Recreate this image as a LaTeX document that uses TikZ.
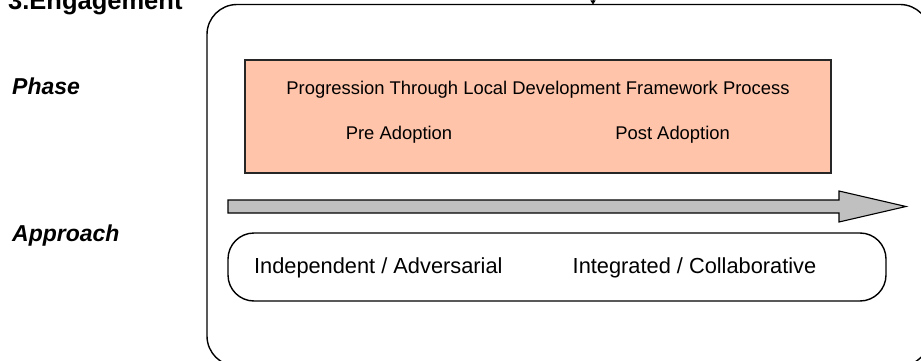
\documentclass[tikz,border=0pt]{standalone}
\usepackage{fontspec}
\setmainfont{Liberation Sans}
\usetikzlibrary{arrows.meta}
\definecolor{salmon}{RGB}{255,196,170}
\definecolor{arrowgray}{RGB}{192,192,192}
\tikzset{
  frame/.style={draw=black, line width=1.4pt, rectangle, inner sep=0pt},
  label/.style={inner sep=0pt, font=\fontsize{23}{27}\selectfont\bfseries\itshape, anchor=base west},
  phasetext/.style={inner sep=0pt, font=\fontsize{18.4}{22}\selectfont, anchor=base},
  apptext/.style={inner sep=0pt, font=\fontsize{21.8}{26}\selectfont, anchor=base},
}
\begin{document}
\begin{tikzpicture}[x=1pt,y=-1pt]
\clip (0,0) rectangle (921,361);
\fill[white] (0,0) rectangle (921,361);
% outer frame
\node[frame, rounded corners=30pt, minimum width=723pt, minimum height=361.5pt] (outer) at (568.5,185.25) {};
% title and labels
\node[inner sep=0pt, anchor=base west, font=\fontsize{25.5}{30}\selectfont\bfseries] (title) at (8,9.5) {3.Engagement};
\node[label] (phase) at (12,95) {Phase};
\node[label] (approach) at (12,241.5) {Approach};
% incoming arrow at top
\coordinate (topin) at (593,-12);
\coordinate (topend) at (593,4.5);
\draw[line width=0.8pt, -{Triangle[width=5pt,length=4pt]}] (topin) -- (topend);
% phase box
\node[draw=black!85, line width=1.1pt, fill=salmon, rectangle, minimum width=586pt, minimum height=113pt, inner sep=0pt] (phasebox) at (538,116.5) {};
\node[phasetext] (prog) at (538,95) {Progression Through Local Development Framework Process};
\node[phasetext] (pre) at (399,139) {Pre Adoption};
\node[phasetext] (post) at (672.6,139) {Post Adoption};
% big gray arrow
\draw[line width=1.1pt, fill=arrowgray, line join=miter]
  (228,200) -- (839,200) -- (839,191) -- (906,206.5) -- (839,222) -- (839,213) -- (228,213) -- cycle;
% approach box
\node[frame, rounded corners=26pt, minimum width=658pt, minimum height=68pt] (appbox) at (557,267) {};
\node[apptext] (indep) at (378.3,273) {Independent / Adversarial};
\node[apptext] (integ) at (694.5,273) {Integrated / Collaborative};
\end{tikzpicture}
\end{document}
